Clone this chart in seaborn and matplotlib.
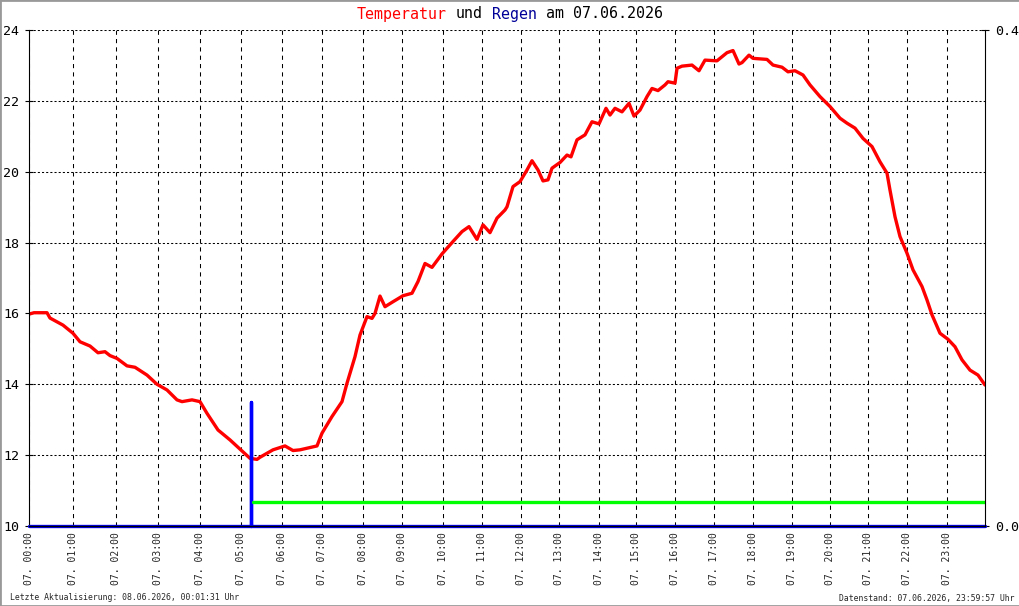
import matplotlib
matplotlib.use("Agg")
import matplotlib.pyplot as plt
import seaborn as sns

# logger sample index at each full hour (samples are not evenly spaced in time)
hour_idx = [0, 44, 87, 129, 171, 212, 253, 293, 334, 373, 414, 453,
            492, 530, 570, 607, 646, 685, 724, 763, 801, 839, 878, 918]
hour_labels = ["07. %02d:00" % h for h in range(24)]
n_samples = 956

# temperature in degC
temp_idx = [0, 5, 18, 21, 34, 44, 51, 61, 69, 76, 81, 88, 98, 106, 118, 128,
            138, 148, 153, 163, 171, 178, 189, 201, 211, 221, 228, 231, 239,
            244, 256, 264, 271, 288, 293, 303, 313, 318, 326, 331, 338, 343,
            346, 351, 356, 364, 374, 383, 389, 396, 403, 413, 424, 433, 440,
            448, 454, 461, 468, 476, 478, 484, 491, 498, 503, 509, 514, 519,
            523, 531, 538, 542, 548, 556, 563, 570, 577, 581, 586, 593, 600,
            605, 611, 618, 623, 629, 636, 639, 646, 648, 653, 663, 670, 676,
            688, 698, 704, 710, 713, 720, 724, 738, 744, 753, 759, 766, 774,
            781, 791, 801, 811, 818, 826, 834, 843, 851, 858, 861, 866, 871,
            878, 884, 893, 898, 903, 911, 919, 926, 933, 941, 949, 956]
temp_val = [15.98, 16.02, 16.02, 15.87, 15.67, 15.44, 15.20, 15.08, 14.89,
            14.92, 14.81, 14.73, 14.52, 14.48, 14.26, 14.00, 13.84, 13.56,
            13.51, 13.56, 13.51, 13.18, 12.71, 12.43, 12.17, 11.91, 11.88,
            11.94, 12.07, 12.15, 12.26, 12.13, 12.15, 12.26, 12.62, 13.09,
            13.51, 14.03, 14.78, 15.39, 15.91, 15.86, 16.00, 16.49, 16.19,
            16.33, 16.50, 16.57, 16.90, 17.41, 17.30, 17.68, 18.03, 18.31,
            18.45, 18.09, 18.50, 18.28, 18.69, 18.92, 19.01, 19.58, 19.72,
            20.05, 20.31, 20.05, 19.74, 19.77, 20.10, 20.26, 20.47, 20.42,
            20.90, 21.04, 21.41, 21.35, 21.79, 21.60, 21.79, 21.69, 21.93,
            21.57, 21.74, 22.12, 22.35, 22.29, 22.45, 22.54, 22.50, 22.92,
            22.98, 23.01, 22.85, 23.15, 23.13, 23.36, 23.42, 23.04, 23.08,
            23.29, 23.20, 23.17, 23.01, 22.95, 22.82, 22.85, 22.73, 22.45,
            22.12, 21.84, 21.51, 21.37, 21.23, 20.94, 20.71, 20.28, 19.96,
            19.48, 18.73, 18.17, 17.70, 17.23, 16.76, 16.38, 15.96, 15.44,
            15.27, 15.06, 14.69, 14.40, 14.26, 13.98]

# rain per interval (mm) and rain sum line
rain_idx = [0, 222, 222, 222, 956]
rain_val = [0.0, 0.0, 0.1, 0.0, 0.0]
sum_idx = [224, 956]
sum_val = [0.0196, 0.0196]

sns.set_style("white")
plt.rcParams["font.family"] = ["DejaVu Sans Mono"]

W, H = 1020, 606
fig = plt.figure(figsize=(W / 100, H / 100), dpi=100)
ax = fig.add_axes([29 / W, 80 / H, 956 / W, 496 / H])

sns.lineplot(x=temp_idx, y=temp_val, ax=ax, color="#ff0000", lw=2.4,
             estimator=None, sort=False)

ax.set_xlim(0, n_samples)
ax.set_ylim(10, 24)
ax.set_yticks(range(10, 25, 2))
ax.set_xticks(hour_idx)
ax.set_xticklabels(hour_labels, rotation=90, fontsize=7, va="top")
ax.tick_params(axis="x", length=0, pad=4.5)
ax.tick_params(axis="y", direction="inout", length=6, width=0.8, pad=4,
               labelsize=9.6, colors="black")
ax.set_xlabel("")
ax.set_ylabel("")

ax.yaxis.grid(True, linestyle=(0, (2, 2)), color="black", lw=0.75)
ax.xaxis.grid(True, linestyle=(0, (4, 4)), color="black", lw=0.75)
ax.set_axisbelow(True)
for s in ["top", "right", "bottom"]:
    ax.spines[s].set_visible(False)
ax.spines["left"].set_color("black")
ax.spines["left"].set_linewidth(0.8)

# rain on the right axis
ax2 = ax.twinx()
sns.lineplot(x=rain_idx, y=rain_val, ax=ax2, color="#0000ff", lw=2.4,
             estimator=None, sort=False, clip_on=False)
sns.lineplot(x=sum_idx, y=sum_val, ax=ax2, color="#00ff00", lw=2.4,
             estimator=None, sort=False)
ax2.set_ylim(0, 0.4)
ax2.set_yticks([0, 0.4])
ax2.set_yticklabels(["0.0", "0.4"])
ax2.set_ylabel("")
ax2.tick_params(axis="y", direction="inout", length=6, width=0.8, pad=4,
                labelsize=9.6, colors="black")
ax2.grid(False)
for s in ["top", "left"]:
    ax2.spines[s].set_visible(False)
ax2.spines["right"].set_color("black")
ax2.spines["right"].set_linewidth(0.8)
ax2.spines["bottom"].set_color("black")
ax2.spines["bottom"].set_linewidth(1.0)
ax2.spines["bottom"].set_zorder(5)
ax2.set_xlim(0, n_samples)

# coloured title, built from monospace pieces
fs = 10.8
cw = 0.6021 * fs * 100 / 72
title = [("Temperatur", 0, "#ff0000"), ("und", 11, "black"),
         ("Regen", 15, "#000099"), ("am 07.06.2026", 21, "black")]
x0 = W / 2 - 34 * cw / 2
for txt, pos, col in title:
    fig.text((x0 + pos * cw) / W, 1 - 14 / H, txt, color=col, fontsize=fs,
             ha="left", va="center")

fig.text(10 / W, 1 - 598 / H, "Letzte Aktualisierung: 08.06.2026, 00:01:31 Uhr",
         fontsize=5.9, ha="left", va="center")
fig.text(1015 / W, 1 - 598 / H, "Datenstand: 07.06.2026, 23:59:57 Uhr",
         fontsize=5.9, ha="right", va="center")

fig.add_artist(plt.Rectangle((0, 0), 1, 1, transform=fig.transFigure,
                             fill=False, edgecolor="#999999", lw=2))

fig.savefig("out.png", dpi=100)
